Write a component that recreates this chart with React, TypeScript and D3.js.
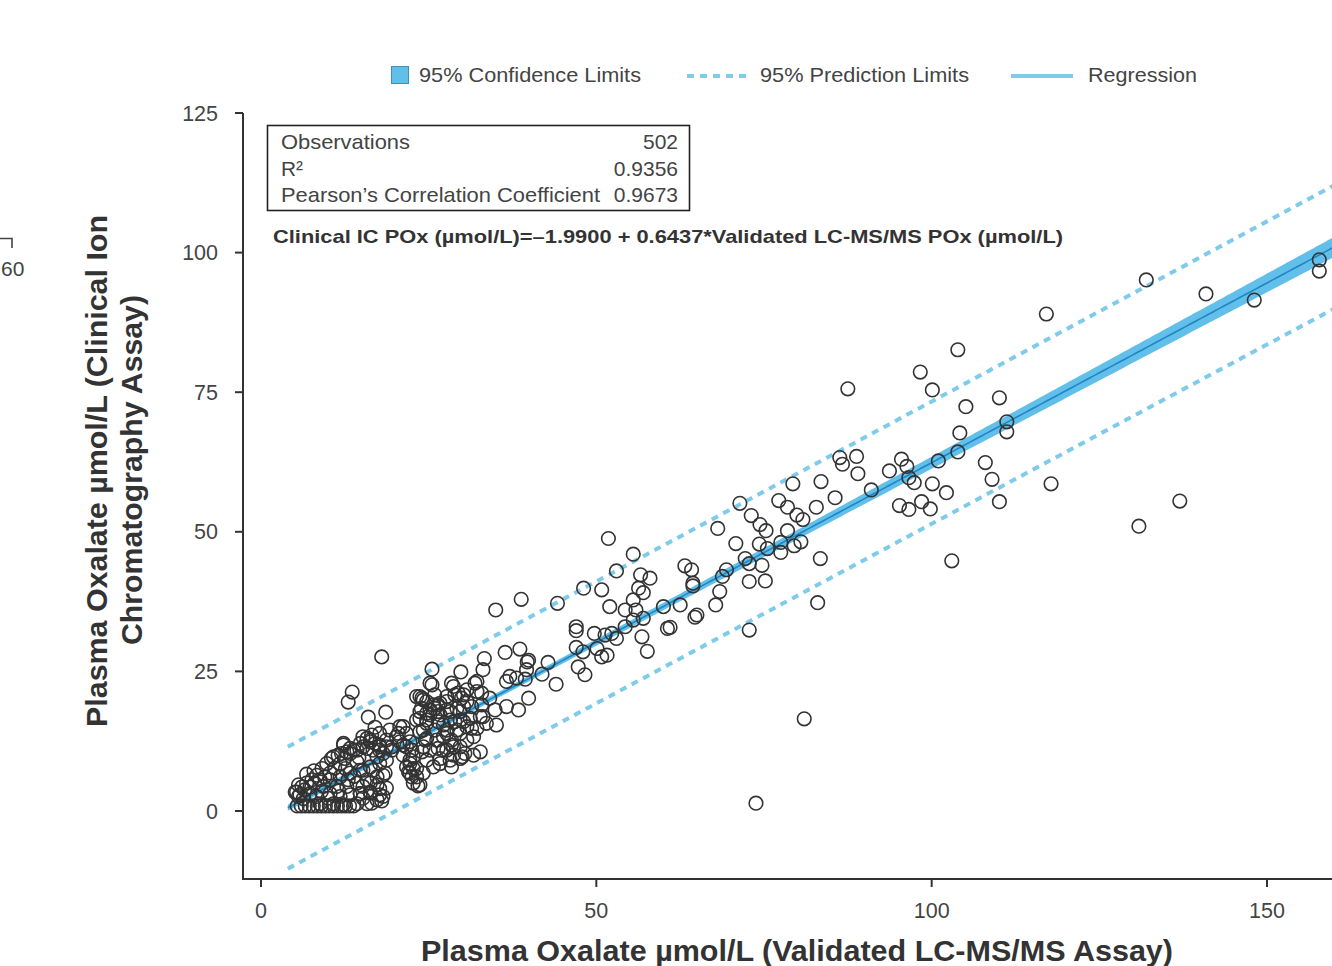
import React from 'react';
import * as d3 from 'd3';

// ---- data (LC-MS/MS POx, Clinical IC POx) ----
const floorRow: [number, number][] = [
  [5.4, 0.9], [6.0, 0.9], [6.6, 0.9], [7.2, 0.9], [7.8, 0.9], [8.4, 0.9], [9.0, 0.9], [9.6, 0.9],
  [10.2, 0.9], [10.8, 0.9], [11.4, 0.9], [12.0, 0.9], [12.6, 0.9], [13.2, 0.9], [13.8, 0.9],
];

const lowCluster: [number, number][] = [
  [5.6, 2.6], [6.3, 2.2], [7.3, 3.1], [8.3, 2.6], [8.8, 1.3], [10.3, 3.1], [10.8, 1.3], [11.8, 2.6],
  [12.3, 1.1], [13.3, 2.9], [14.3, 1.3], [14.8, 3.1], [15.2, 2.3], [15.8, 1.3], [16.3, 3.2], [16.5, 1.4],
  [17.3, 2.0], [17.7, 2.9], [18.0, 1.8], [18.2, 2.6], [5.1, 3.4], [5.3, 3.4], [5.6, 4.7], [5.8, 2.9],
  [6.1, 4.3], [6.5, 3.8], [6.8, 5.0], [7.3, 4.3], [7.6, 5.6], [8.0, 5.0], [8.3, 6.4], [8.8, 5.6],
  [9.1, 7.6], [9.3, 4.4], [9.5, 6.1], [9.8, 8.5], [10.3, 5.6], [10.3, 6.8], [10.5, 9.4], [10.8, 9.7],
  [11.0, 7.7], [11.3, 4.4], [11.5, 10.0], [11.8, 6.1], [11.8, 8.5], [12.0, 10.3], [12.3, 12.1], [12.3, 11.8],
  [12.5, 9.4], [12.8, 4.4], [12.8, 10.6], [13.0, 5.6], [13.3, 6.8], [13.3, 10.3], [13.3, 11.2], [13.8, 10.9],
  [14.3, 5.0], [14.3, 8.8], [14.3, 10.9], [14.8, 7.3], [14.8, 12.1], [15.2, 4.4], [15.2, 7.3], [15.2, 11.5],
  [15.2, 13.3], [15.8, 5.6], [15.8, 11.2], [15.8, 13.0], [16.0, 16.8], [16.3, 5.0], [16.3, 7.9], [16.3, 12.4],
  [16.3, 12.7], [16.5, 13.6], [16.7, 7.3], [16.7, 10.9], [17.0, 12.1], [17.0, 15.0], [17.3, 4.7], [17.3, 6.1],
  [17.3, 9.7], [17.7, 4.0], [17.7, 8.5], [17.7, 10.9], [17.7, 11.5], [17.7, 11.8], [17.7, 13.9], [18.2, 6.4],
  [18.2, 10.3], [18.5, 6.8], [18.7, 4.1], [18.7, 9.1], [18.7, 11.5], [18.7, 12.7], [13.0, 19.5], [13.6, 21.3],
  [18.0, 27.6], [18.6, 17.7], [19.2, 14.5], [19.5, 10.9], [19.5, 11.5], [16.3, 3.4], [14.8, 3.1],
  [6.8, 6.6], [7.9, 7.2], [9.0, 3.5], [10.0, 2.3], [11.6, 3.6], [12.6, 7.6], [13.9, 6.2], [14.6, 9.6],
];

const midCluster: [number, number][] = [
  [20.2, 13.3], [20.5, 13.9], [20.7, 12.4], [20.7, 15.1], [21.2, 10.0], [21.2, 11.8], [21.7, 7.9],
  [21.7, 11.5], [21.7, 13.9], [22.0, 7.0], [22.2, 6.8], [22.2, 8.5], [22.2, 9.1], [22.2, 12.4], [22.5, 6.1],
  [22.5, 10.9], [22.7, 5.0], [22.7, 7.6], [22.7, 9.7], [23.2, 6.1], [23.2, 7.6], [23.2, 16.3], [23.2, 20.5],
  [23.4, 4.5], [23.7, 4.7], [23.7, 14.2], [23.7, 16.6], [23.7, 17.8], [23.7, 20.5], [23.9, 18.4], [24.0, 10.6],
  [24.0, 20.2], [24.2, 6.8], [24.2, 11.5], [24.2, 14.5], [24.2, 19.9], [24.5, 12.7], [24.7, 9.1], [24.7, 13.0],
  [24.7, 15.7], [24.7, 16.3], [24.7, 17.5], [24.7, 19.6], [25.2, 10.9], [25.2, 17.2], [25.2, 18.1], [25.2, 22.9],
  [25.5, 22.6], [25.5, 25.4], [25.7, 7.9], [25.7, 19.0], [25.9, 14.5], [25.9, 18.4], [25.9, 20.8], [26.2, 12.7],
  [26.4, 11.2], [26.4, 16.0], [26.4, 17.8], [26.4, 19.0], [26.7, 8.5], [26.7, 9.4], [26.7, 17.2], [26.7, 19.3],
  [27.2, 10.9], [27.2, 13.3], [27.2, 15.4], [27.7, 10.9], [27.7, 14.5], [27.7, 18.1], [27.7, 19.6], [27.7, 20.5],
  [28.2, 9.1], [28.2, 16.3], [28.2, 17.8], [28.4, 7.9], [28.4, 11.8], [28.4, 12.7], [28.4, 22.9], [28.7, 10.0],
  [28.7, 11.5], [28.7, 22.3], [28.9, 16.0], [28.9, 20.8], [29.2, 14.5], [29.2, 18.4], [29.4, 21.1], [29.7, 9.4],
  [29.7, 11.5], [29.7, 13.9], [29.7, 16.3], [29.7, 17.8], [29.8, 24.9], [29.9, 20.2], [30.0, 9.7], [30.2, 16.0],
  [30.2, 18.7], [30.2, 20.8], [30.4, 10.3], [30.7, 12.7], [30.7, 15.1], [30.7, 19.6], [30.7, 21.7], [31.2, 16.6],
  [31.4, 14.8], [31.4, 18.7], [31.7, 10.0], [31.7, 13.3], [31.9, 22.9], [32.2, 14.8], [32.2, 21.4], [32.2, 23.2],
  [32.7, 10.6], [32.7, 16.9], [32.9, 19.0], [32.9, 21.1], [33.1, 16.9], [33.1, 25.3], [33.3, 27.3], [33.6, 15.7],
  [34.1, 20.2], [34.9, 18.1], [35.1, 15.4], [27.7, 13.9], [21.2, 15.1],
];

const midRange: [number, number][] = [
  [35.0, 36.0], [36.4, 28.4], [36.6, 18.7], [36.6, 23.2], [37.1, 24.1], [38.1, 23.8], [38.4, 18.1],
  [38.6, 29.0], [38.8, 37.9], [39.4, 23.6], [39.6, 25.3], [39.7, 26.7], [39.9, 20.2], [39.9, 27.0],
  [41.9, 24.5], [42.8, 26.6], [44.0, 22.7], [44.2, 37.2], [47.0, 29.3], [47.0, 32.3], [47.0, 33.0],
  [47.3, 25.8], [48.0, 28.5], [48.1, 39.9], [48.3, 24.4], [49.7, 31.8], [50.1, 29.1], [50.8, 27.6],
  [50.8, 39.6], [51.3, 31.5], [51.6, 27.9], [51.8, 48.8], [52.0, 36.6], [52.3, 31.8], [53.0, 30.9],
  [53.0, 43.0], [54.3, 33.0], [54.3, 36.0], [55.5, 34.2], [55.5, 37.8], [55.5, 46.0], [55.9, 36.0],
  [56.3, 39.9], [56.6, 42.3], [56.8, 31.2], [57.0, 34.5], [57.0, 39.1], [57.6, 28.6], [58.0, 41.7],
  [60.0, 36.6], [60.6, 32.7], [61.0, 32.9], [62.5, 36.9], [63.2, 43.9], [64.2, 43.2], [64.4, 40.3],
  [64.4, 40.8], [64.7, 34.7], [65.0, 35.1], [67.8, 36.9], [68.1, 50.6], [68.4, 39.3], [68.8, 42.0],
  [69.4, 43.2],
];

const highRange: [number, number][] = [
  [70.8, 47.9], [71.4, 55.1], [72.2, 45.2], [72.8, 32.4], [72.8, 41.1], [72.8, 44.3], [73.1, 52.9],
  [73.8, 1.4], [74.3, 47.8], [74.4, 51.3], [74.7, 44.0], [75.2, 41.2], [75.3, 50.2], [75.5, 47.0],
  [77.2, 55.6], [77.5, 46.3], [77.5, 48.1], [78.5, 50.2], [78.5, 54.4], [79.3, 58.6], [79.5, 47.5],
  [79.9, 53.0], [80.5, 48.2], [80.8, 52.2], [81.0, 16.5], [82.8, 54.4], [83.0, 37.3], [83.4, 45.2],
  [83.5, 59.0], [85.6, 56.1], [86.3, 63.3], [86.7, 62.1], [87.5, 75.6], [88.8, 63.5], [89.0, 60.4],
  [91.0, 57.5], [93.7, 60.9], [95.2, 54.7], [95.5, 63.0], [96.3, 61.7], [96.6, 54.0], [96.6, 59.7],
  [97.4, 58.8], [98.3, 78.6], [98.5, 55.4], [99.8, 54.1], [100.1, 58.6], [100.1, 75.4], [101.0, 62.7],
  [102.2, 57.0], [103.0, 44.8], [103.9, 64.3], [103.9, 82.6], [104.2, 67.7], [105.1, 72.4], [108.0, 62.4],
  [109.0, 59.4], [110.1, 55.4], [110.1, 74.0], [111.2, 67.9], [111.2, 69.7], [117.1, 89.0], [117.8, 58.6],
  [130.9, 51.0], [132.0, 95.1], [137.0, 55.5], [140.9, 92.6], [148.1, 91.5], [157.8, 96.7], [157.8, 98.7],
];

const xTicks = [0, 50, 100, 150];
const yTicks = [0, 25, 50, 75, 100, 125];

const statRows = [
  { label: 'Observations', value: '502', width: 129 },
  { label: 'R\u00B2', value: '0.9356', width: 22 },
  { label: 'Pearson\u2019s Correlation Coefficient', value: '0.9673', width: 319 },
];
const equationText = 'Clinical IC POx (\u00B5mol/L)=\u20131.9900 + 0.6437*Validated LC-MS/MS POx (\u00B5mol/L)';
const xTitle = 'Plasma Oxalate \u00B5mol/L (Validated LC-MS/MS Assay)';
const yTitleLines = ['Plasma Oxalate \u00B5mol/L (Clinical Ion', 'Chromatography Assay)'];

// regression fit (from the equation on the chart) and band spread
const intercept = -1.99;
const slope = 0.6437;
const nObs = 502;
const tTimesS = 10.9;
const meanX = 25;
const sxx = 720000;

const W = 1332;
const H = 966;
const font = '"Liberation Sans", Arial, Helvetica, sans-serif';
const bandFill = '#62bfe9';
const regColor = '#1f86c6';
const dotColor = '#7fcbea';
const inkColor = '#333';
const labelColor = '#444';

export default function App() {
  const x = d3.scaleLinear().domain([0, 150]).range([261, 1267]);
  const y = d3.scaleLinear().domain([0, 125]).range([811, 113]);
  const yMin = y.invert(879);
  const xMin = x.invert(243);

  const grid = d3.range(4, 166, 0.5);
  const fit = (v: number) => intercept + slope * v;
  const lev = (v: number) => 1 / nObs + ((v - meanX) ** 2) / sxx;
  const ci = (v: number) => tTimesS * Math.sqrt(lev(v));
  const pi = (v: number) => tTimesS * Math.sqrt(1 + lev(v));

  const area = d3.area<number>()
    .x(v => x(v))
    .y0(v => y(fit(v) - ci(v)))
    .y1(v => y(fit(v) + ci(v)));
  const line = (f: (v: number) => number) => d3.line<number>().x(v => x(v)).y(v => y(f(v)))(grid) ?? '';

  const points = [...floorRow, ...lowCluster, ...midCluster, ...midRange, ...highRange];

  return (
    <svg width={W} height={H} style={{ position: 'absolute', left: 0, top: 0, background: '#fff' }}
      fontFamily={font}>
      {/* fragment of neighbouring panel */}
      <path d="M0,238.5 H12 V248" fill="none" stroke={labelColor} strokeWidth={1.6} />
      <text x={1} y={276} fontSize={21} fill={labelColor}>60</text>

      {/* legend */}
      <rect x={391.5} y={66.5} width={17} height={17} fill={bandFill} stroke="#3d8fbf" strokeWidth={1} />
      <text x={419} y={82} fontSize={21} fill={labelColor} textLength={222} lengthAdjust="spacingAndGlyphs">95% Confidence Limits</text>
      <line x1={687} x2={746} y1={76} y2={76} stroke={dotColor} strokeWidth={4} strokeDasharray="7,6" />
      <text x={760} y={82} fontSize={21} fill={labelColor} textLength={209} lengthAdjust="spacingAndGlyphs">95% Prediction Limits</text>
      <line x1={1011} x2={1073} y1={76} y2={76} stroke={dotColor} strokeWidth={4} />
      <text x={1088} y={82} fontSize={21} fill={labelColor} textLength={109} lengthAdjust="spacingAndGlyphs">Regression</text>

      {/* bands & regression */}
      <path d={area(grid) ?? ''} fill={bandFill} />
      <path d={line(v => fit(v) + pi(v))} fill="none" stroke={dotColor} strokeWidth={4} strokeDasharray="7,6" />
      <path d={line(v => fit(v) - pi(v))} fill="none" stroke={dotColor} strokeWidth={4} strokeDasharray="7,6" />
      <path d={line(fit)} fill="none" stroke={regColor} strokeWidth={1.6} />

      {/* observations */}
      {points.map(([px, py], i) => (
        <circle key={i} cx={x(px)} cy={y(py)} r={6.8} fill="none" stroke="#333" strokeWidth={1.6} />
      ))}

      {/* axes */}
      <path d={`M${x(xMin)},${y(125)} V${y(yMin)} H${W}`} fill="none" stroke={inkColor} strokeWidth={2} />
      {yTicks.map(t => (
        <g key={t}>
          <line x1={235} x2={243} y1={y(t)} y2={y(t)} stroke={inkColor} strokeWidth={2} />
          <text x={218} y={y(t) + 7.5} textAnchor="end" fontSize={21.5} fill={labelColor}>{t}</text>
        </g>
      ))}
      {xTicks.map(t => (
        <g key={t}>
          <line x1={x(t)} x2={x(t)} y1={879} y2={887} stroke={inkColor} strokeWidth={2} />
          <text x={x(t)} y={918} textAnchor="middle" fontSize={21.5} fill={labelColor}>{t}</text>
        </g>
      ))}

      {/* statistics box */}
      <rect x={267.5} y={125.5} width={422} height={85} fill="#fff" stroke="#222" strokeWidth={1.6} />
      {statRows.map((r, i) => (
        <g key={r.label} fontSize={21} fill={labelColor}>
          <text x={281} y={149 + i * 26.5} textLength={r.width} lengthAdjust="spacingAndGlyphs">{r.label}</text>
          <text x={678} y={149 + i * 26.5} textAnchor="end">{r.value}</text>
        </g>
      ))}
      <text x={273} y={243} fontSize={19} fontWeight="bold" fill={inkColor}
        textLength={790} lengthAdjust="spacingAndGlyphs">{equationText}</text>

      {/* axis titles */}
      <text x={421} y={961} fontSize={29} fontWeight="bold" fill={inkColor}
        textLength={752} lengthAdjust="spacingAndGlyphs">{xTitle}</text>
      <g transform="translate(107,727) rotate(-90)">
        <text x={0} y={0} fontSize={29} fontWeight="bold" fill={inkColor}
          textLength={512} lengthAdjust="spacingAndGlyphs">{yTitleLines[0]}</text>
      </g>
      <g transform="translate(142,645) rotate(-90)">
        <text x={0} y={0} fontSize={29} fontWeight="bold" fill={inkColor}
          textLength={350} lengthAdjust="spacingAndGlyphs">{yTitleLines[1]}</text>
      </g>
    </svg>
  );
}
